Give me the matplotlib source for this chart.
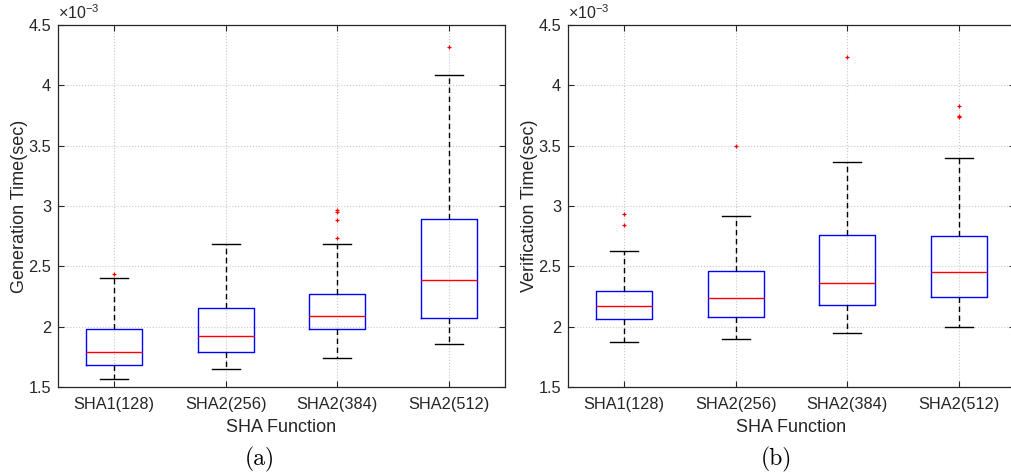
import matplotlib
matplotlib.use("Agg")
import matplotlib.pyplot as plt

plt.rcParams['font.family'] = ['Liberation Sans', 'DejaVu Sans']
plt.rcParams['mathtext.fontset'] = 'custom'
plt.rcParams['mathtext.rm'] = 'Liberation Sans'
plt.rcParams['mathtext.it'] = 'Liberation Sans'

categories = ["SHA1(128)", "SHA2(256)", "SHA2(384)", "SHA2(512)"]

# Generation time (x1e-3 sec)
gen_med = [1.790, 1.925, 2.088, 2.387]
gen_q1 = [1.685, 1.790, 1.981, 2.069]
gen_q3 = [1.981, 2.155, 2.268, 2.892]
gen_lo = [1.569, 1.652, 1.740, 1.856]
gen_hi = [2.403, 2.688, 2.688, 4.083]
gen_fliers = [[2.436], [], [2.738, 2.884, 2.948, 2.965], [4.315]]

# Verification time (x1e-3 sec)
ver_med = [2.169, 2.238, 2.359, 2.456]
ver_q1 = [2.064, 2.080, 2.177, 2.249]
ver_q3 = [2.298, 2.461, 2.757, 2.754]
ver_lo = [1.876, 1.898, 1.950, 2.000]
ver_hi = [2.630, 2.917, 3.367, 3.401]
ver_fliers = [[2.845, 2.931], [3.497], [4.238], [3.735, 3.749, 3.826]]

yticks = [1.5, 2, 2.5, 3, 3.5, 4, 4.5]
ytick_labels = ["1.5", "2", "2.5", "3", "3.5", "4", "4.5"]

TXT = '#262626'
W, H = 1011, 475
fig = plt.figure(figsize=(W / 100, H / 100), dpi=100)


def make_stats(med, q1, q3, lo, hi, fl):
    return [dict(med=m, q1=a, q3=b, whislo=l, whishi=h, fliers=f, label=c)
            for m, a, b, l, h, f, c in zip(med, q1, q3, lo, hi, fl, categories)]


def panel(rect, stats, ylabel, sub, subx):
    ax = fig.add_axes(rect)
    ax.bxp(stats, positions=range(1, 5), widths=0.5, capwidths=0.25,
           boxprops=dict(color='#0000ff', linewidth=1.0),
           medianprops=dict(color='#ff0000', linewidth=1.0),
           whiskerprops=dict(color='black', linewidth=1.0, linestyle=(0, (4, 2.5))),
           capprops=dict(color='black', linewidth=1.0),
           flierprops=dict(marker='+', markeredgecolor='#ff0000', markersize=3.5,
                           markeredgewidth=0.9, linestyle='none'))
    ax.set_xlim(0.5, 4.5)
    ax.set_ylim(1.5, 4.5)
    ax.set_yticks(yticks)
    ax.set_yticklabels(ytick_labels)
    ax.set_xticks(range(1, 5))
    ax.set_xticklabels(categories)
    ax.tick_params(direction='in', length=4, width=0.8, colors=TXT,
                   labelsize=11.8, top=True, right=True, pad=5)
    ax.tick_params(axis='x', pad=7)
    ax.grid(True, linestyle=':', color='#c8c8c8', linewidth=0.8)
    ax.set_axisbelow(True)
    for s in ax.spines.values():
        s.set_color(TXT)
        s.set_linewidth(0.9)
    ax.set_xlabel("SHA Function", fontsize=13, color=TXT, labelpad=5)
    ax.set_ylabel(ylabel, fontsize=13, color=TXT, labelpad=0)
    ax.text(0.0, 1.008, r'$\times10^{-3}$', transform=ax.transAxes,
            fontsize=11.5, color=TXT, ha='left', va='bottom')
    fig.text(subx / W, 1 - 459 / H, sub, fontsize=17, family='cmr10',
             ha='center', va='center', color='black')
    return ax


ax_h = (387 - 25) / H
ax_b = (H - 387) / H
panel([58 / W, ax_b, (505 - 58) / W, ax_h],
      make_stats(gen_med, gen_q1, gen_q3, gen_lo, gen_hi, gen_fliers),
      "Generation Time(sec)", "(a)", 260)
panel([568 / W, ax_b, (1015 - 568) / W, ax_h],
      make_stats(ver_med, ver_q1, ver_q3, ver_lo, ver_hi, ver_fliers),
      "Verification Time(sec)", "(b)", 776)

fig.savefig("out.png", dpi=100)
